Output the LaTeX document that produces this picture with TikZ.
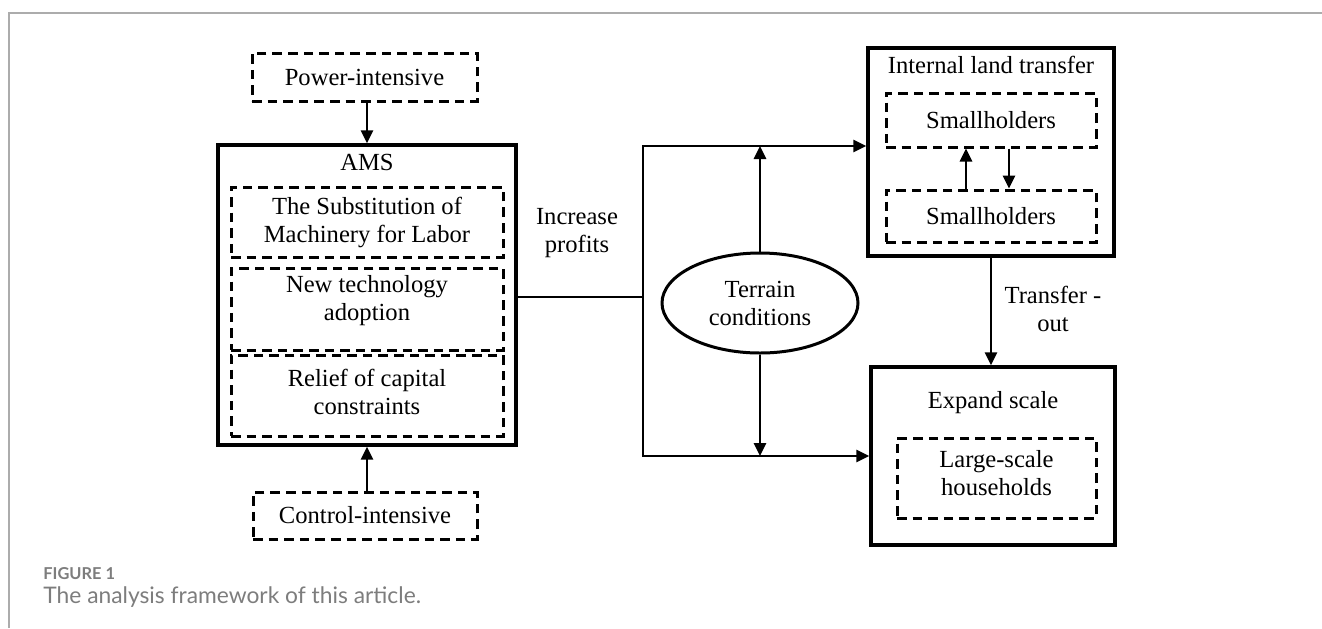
\documentclass[tikz,border=0pt]{standalone}
\usepackage{fontspec}
\setmainfont{Liberation Serif}
\newfontfamily\capfont{Lato}
\usepackage{xcolor}
\usetikzlibrary{arrows.meta}
\usetikzlibrary{shapes.geometric,calc}
\definecolor{framegray}{RGB}{172,172,172}
\definecolor{capgray}{RGB}{125,125,125}

\begin{document}
\begin{tikzpicture}[x=0.5pt,y=-0.5pt,
    solidbox/.style={draw,line width=1.7pt,inner sep=0pt},
    dashbox/.style={draw,line width=1.5pt,dash pattern=on 4.8pt off 3pt,inner sep=0pt,
      font=\fontsize{12.3}{14}\selectfont,align=center},
    txt/.style={inner sep=0pt,font=\fontsize{12.3}{14}\selectfont,align=center},
    link/.style={line width=1.35pt},
    arr/.style={link,-{Triangle[length=6.5pt,width=6pt]}}]
    \useasboundingbox (0,0) rectangle (1322,628);
    % page frame and caption
    \draw[framegray,line width=0.6pt] (9,628) -- (9,13) -- (1322,13);
    \node[anchor=west,inner sep=0pt,text=capgray,
      font=\capfont\bfseries\fontsize{8.2}{9}\selectfont] (figno) at (43,574) {FIGURE 1};
    \node[anchor=west,inner sep=0pt,text=capgray,
      font=\capfont\fontsize{11.4}{13}\selectfont] (figcap) at (43,597)
      {The analysis framework of this article.};
    % left block
    \node[dashbox,minimum width=112.5pt,minimum height=24pt] (power) at (364.5,77) {Power-intensive};
    \node[solidbox,minimum width=149pt,minimum height=150pt] (ams) at (367,295) {};
    \node[txt] (amstitle) at (367,162) {AMS};
    \node[dashbox,minimum width=136pt,minimum height=35pt] (subst) at (367,222)
      {The Substitution of\\Machinery for Labor};
    \node[dashbox,minimum width=136pt,minimum height=41pt] (tech) at (367,309) {};
    \node[txt] (techtext) at (367,301) {New technology\\adoption};
    \node[dashbox,minimum width=136pt,minimum height=40.5pt] (relief) at (367,395.5) {};
    \node[txt] (relieftext) at (367,391.5) {Relief of capital\\constraints};
    \node[dashbox,minimum width=112pt,minimum height=23.5pt] (control) at (365,515.5) {Control-intensive};
    \draw[arr] (ams.north |- power.south) -- (ams.north);
    \draw[arr] (ams.south |- control.north) -- (ams.south);
    % middle
    \node[txt] (profits) at (577,233) {Increase\\profits};
    \node[ellipse,draw,line width=1.5pt,inner sep=0pt,minimum width=98pt,minimum height=50pt,
      font=\fontsize{12.3}{14}\selectfont,align=center] (terrain) at (760,303) {Terrain\\conditions};
    \coordinate (junc) at (643,297);
    \coordinate (toprow) at (643,146);
    \coordinate (botrow) at (643,456);
    % right block
    \node[solidbox,minimum width=123pt,minimum height=104pt] (land) at (991,152) {};
    \node[txt] (landtitle) at (991,65) {Internal land transfer};
    \node[dashbox,minimum width=105pt,minimum height=27pt] (smallup) at (991,120) {Smallholders};
    \node[dashbox,minimum width=105pt,minimum height=26pt] (smalldown) at (991,216) {Smallholders};
    \node[solidbox,minimum width=122pt,minimum height=89pt] (scale) at (993,456) {};
    \node[txt] (scaletitle) at (993,403) {Expand scale};
    \node[dashbox,minimum width=99.5pt,minimum height=40pt] (large) at (996.5,478) {};
    \node[txt] (largetext) at (996.5,473.5) {Large-scale\\households};
    \node[txt] (transfer) at (1053,308.5) {Transfer -\\out};
    % connectors
    \draw[link] (ams.east |- junc) -- (junc);
    \draw[arr] (junc) -- (toprow) -- (toprow -| land.west);
    \draw[arr] (junc) -- (botrow) -- (botrow -| scale.west);
    \draw[arr] (terrain.north) -- (terrain.north |- toprow);
    \draw[arr] (terrain.south) -- (terrain.south |- botrow);
    \draw[arr] ([xshift=-12.5pt]smalldown.north) -- ([xshift=-12.5pt]smallup.south);
    \draw[arr] ([xshift=9pt]smallup.south) -- ([xshift=9pt]smalldown.north);
    \draw[arr] (land.south) -- (land.south |- scale.north);
\end{tikzpicture}
\end{document}
